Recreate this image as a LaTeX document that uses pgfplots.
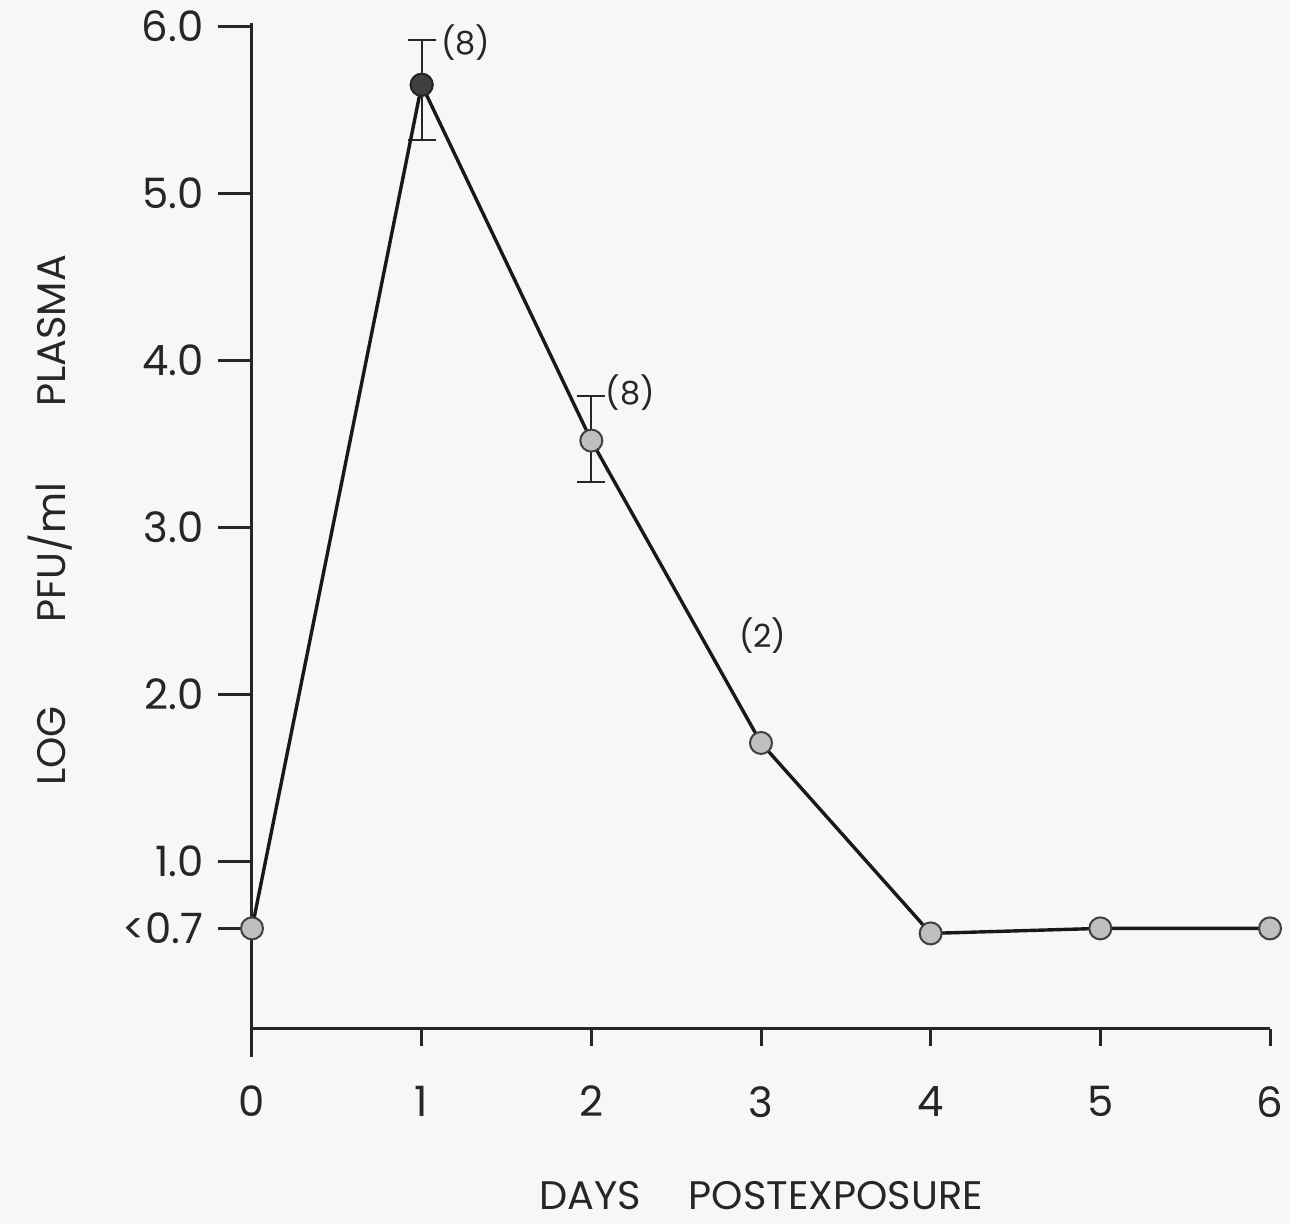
\documentclass[border=0pt]{standalone}
\usepackage{fontspec}
\setmainfont{Poppins}
\usepackage{pgfplots}
\pgfplotsset{compat=1.18}
\usetikzlibrary{calc,backgrounds}
\begin{document}
\begin{tikzpicture}
\begin{axis}[name=ax, scale only axis, width=509bp, height=517bp,
  xmin=0, xmax=6, ymin=-0.17, ymax=6.02,
  axis y line=left, axis x line=middle,
  axis line style={-, line width=1.5bp, black!85},
  hide obscured x ticks=false,
  xtick={0,1,2,3,4,5,6}, xticklabels={0,1,2,3,4,5,6},
  ytick={0.6,1,2,3,4,5,6}, yticklabels={{<0.7},1.0,2.0,3.0,4.0,5.0,6.0},
  tick align=outside, minor tick num=0,
  tick style={line width=1.5bp, black!85},
  xtick style={/pgfplots/major tick length=8.5bp},
  ytick style={/pgfplots/major tick length=17bp},
  ticklabel style={font=\fontsize{21}{25}\selectfont, text=black!85},
  xticklabel style={anchor=north, yshift=-21bp},
  yticklabel style={anchor=east, xshift=-16.5bp},
  xlabel={DAYS\hspace{1.2em}POSTEXPOSURE},
  ylabel={LOG\hspace{2.1em}PFU/ml\hspace{1.9em}PLASMA},
  label style={font=\fontsize{20}{24}\selectfont, text=black!85},
  xlabel style={at={(axis description cs:0.5,-0.134)}, anchor=center},
  ylabel style={at={(axis description cs:-0.198,0.519)}, anchor=center, rotate=0},
  clip=false,
]
% error bars
\addplot[black!85, line width=1bp, mark=none,
  error bars/.cd, y dir=both, y explicit,
  error bar style={line width=1bp, black!85},
  error mark options={rotate=90, mark size=7bp, line width=1bp, black!85}]
  coordinates {(1,5.65) += (0,0.27) -= (0,0.33)};
\addplot[black!85, line width=1bp, mark=none,
  error bars/.cd, y dir=both, y explicit,
  error bar style={line width=1bp, black!85},
  error mark options={rotate=90, mark size=7bp, line width=1bp, black!85}]
  coordinates {(2,3.52) += (0,0.27) -= (0,0.25)};
% main line
\addplot[black!90, line width=1.7bp, mark=*, mark size=5.5bp,
  mark options={fill=gray!50, draw=black!75, line width=1bp}]
  coordinates {(0,0.6) (1,5.65) (2,3.52) (3,1.71) (4,0.57) (5,0.6) (6,0.6)};
\addplot[only marks, mark=*, mark size=5.5bp,
  mark options={fill=black!75, draw=black!85, line width=1bp}]
  coordinates {(1,5.65)};
\node[font=\fontsize{16}{19}\selectfont, text=black!85] at (axis cs:1.26,5.90) {(8)};
\node[font=\fontsize{16}{19}\selectfont, text=black!85] at (axis cs:2.23,3.81) {(8)};
\node[font=\fontsize{16}{19}\selectfont, text=black!85] at (axis cs:3.01,2.35) {(2)};
\end{axis}
\pgfresetboundingbox
\path[use as bounding box] ($(ax.south west)+(-126bp,-83.5bp)$) rectangle ($(ax.north east)+(9.5bp,11.5bp)$);
\begin{scope}[on background layer]
\fill[black!3] ($(ax.south west)+(-126bp,-83.5bp)$) rectangle ($(ax.north east)+(9.5bp,11.5bp)$);
\end{scope}
\end{tikzpicture}
\end{document}
